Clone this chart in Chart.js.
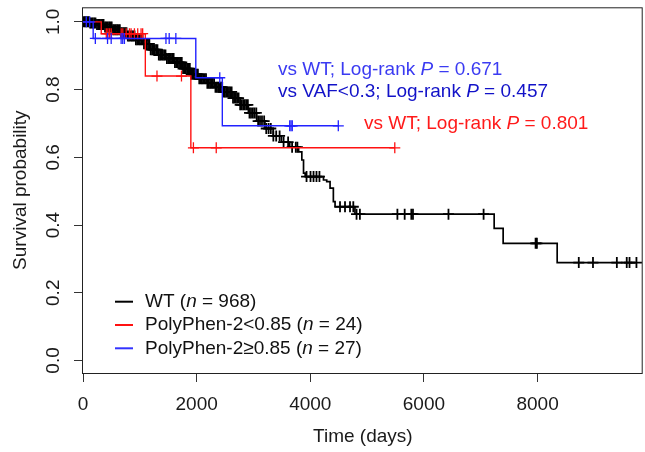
<!DOCTYPE html>
<html>
<head>
<meta charset="utf-8">
<script src="https://cdn.jsdelivr.net/npm/chart.js@4.4.0/dist/chart.umd.min.js"></script>
<style>
  html, body { margin: 0; padding: 0; background: #fff; overflow: hidden; width: 645px; height: 452px; }
  canvas { display: block; }
</style>
</head>
<body>
<canvas id="km" width="650" height="452"></canvas>
<script>
// KM curves: event times (days) and survival after each step
const wtTimes = [0, 112, 224, 369, 515, 649, 784, 918, 1052, 1187, 1321, 1455, 1601, 1746, 1892, 2037, 2183,
  2329, 2474, 2620, 2765, 2911, 3056, 3202, 3347, 3493, 3638, 3795, 3851, 3881, 3910, 4232, 4289, 4348,
  4406, 4436, 4786, 7236, 7394, 8345, 9745];
const wtSurv = [1.0, 0.997, 0.992, 0.985, 0.977, 0.968, 0.958, 0.947, 0.935, 0.918, 0.902, 0.892, 0.880,
  0.862, 0.845, 0.832, 0.819, 0.807, 0.793, 0.775, 0.755, 0.731, 0.707, 0.685, 0.663, 0.645, 0.630, 0.616,
  0.592, 0.553, 0.543, 0.533, 0.528, 0.509, 0.469, 0.454, 0.432, 0.390, 0.346, 0.289, 0.289];
const wtCensor = [10, 32, 55, 80, 101, 126, 150, 171, 197, 220, 246, 268, 291, 317, 340, 362, 388, 411, 433,
  459, 482, 505, 529, 553, 576, 600, 623, 648, 671, 694, 719, 742, 766, 789, 812, 838, 860, 884, 907, 931,
  955, 979, 1002, 1027, 1049, 1073, 1098, 1120, 1145, 1168, 1191, 1216, 1239, 1262, 1287, 1310, 1334, 1357,
  1381, 1405, 1429, 1452, 1476, 1500, 1523, 1548, 1571, 1595, 1618, 1642, 1667, 1690, 1713, 1738, 1761,
  1785, 1809, 1832, 1856, 1880, 1904, 1927, 1951, 1975, 1998, 2022, 2046, 2070, 2093, 2117, 2141, 2165,
  2188, 2212, 2236, 2260, 2283, 2307, 2331, 2355, 2378, 2402, 2426, 2450, 2474, 2497, 2521, 2545, 2569,
  2592, 2616, 2640, 2664, 2690, 2713, 2738, 2766, 2790, 2818, 2845, 2872, 2901, 2930, 2957, 2989, 3018,
  3050, 3082, 3115, 3150, 3188, 3225, 3266, 3305, 3350, 3400, 3460, 3530, 3610, 3680, 3745, 3773,
  3934, 4004, 4057, 4109, 4161, 4523, 4611, 4699, 4757, 4814, 4873, 5533, 5661, 5778, 5807, 6432, 7050,
  7965, 7988, 8725, 8975, 9395, 9569, 9618, 9740];

const lowTimes = [0, 321, 1097, 1898, 5487];
const lowSurv = [1.0, 0.965, 0.840, 0.628, 0.628];
const lowCensor = [410, 438, 468, 497, 672, 701, 760, 817, 846, 905, 963, 1022, 1050, 1302, 1733, 1943, 2345, 5487];

const highTimes = [0, 179, 1985, 2452, 4493];
const highSurv = [1.0, 0.951, 0.835, 0.693, 0.693];
const highCensor = [59, 118, 217, 432, 496, 671, 699, 729, 1460, 1517, 1634, 2407, 3638, 3661, 3683, 4493];

const xTicks = [0, 2000, 4000, 6000, 8000];
const xTickLabels = ['0', '2000', '4000', '6000', '8000'];
const yTicks = [0, 0.2, 0.4, 0.6, 0.8, 1.0];
const yTickLabels = ['0.0', '0.2', '0.4', '0.6', '0.8', '1.0'];

// text parts: [normal, italic, normal]
const legendItems = [
  { color: '#000000', parts: ['WT (', 'n', ' = 968)'] },
  { color: '#ff1111', parts: ['PolyPhen-2<0.85 (', 'n', ' = 24)'] },
  { color: '#3333ff', parts: ['PolyPhen-2\u22650.85 (', 'n', ' = 27)'] },
];
const notes = [
  { color: '#3b3bf2', x: 278, y: 70, parts: ['vs WT; Log-rank ', 'P', ' = 0.671'] },
  { color: '#1212c8', x: 278, y: 92, parts: ['vs VAF<0.3; Log-rank ', 'P', ' = 0.457'] },
  { color: '#ff1a1a', x: 364, y: 124, parts: ['vs WT; Log-rank ', 'P', ' = 0.801'] },
];

const FONT = '"Liberation Sans", Arial, Helvetica, sans-serif';
Chart.defaults.font.family = FONT;
Chart.defaults.font.size = 19;
Chart.defaults.color = '#1a1a1a';

function survAt(times, surv, t) {
  let s = surv[0];
  for (let i = 0; i < times.length; i++) {
    if (times[i] <= t) s = surv[i];
  }
  return s;
}

function curve(times, surv, color, width, order) {
  return {
    data: times.map((t, i) => ({ x: t, y: surv[i] })),
    showLine: true,
    stepped: true,
    borderColor: color,
    borderWidth: width,
    pointRadius: 0,
    order: order,
  };
}

function censors(list, times, surv, color, width, order) {
  return {
    data: list.map(t => ({ x: t, y: survAt(times, surv, t) })),
    showLine: false,
    pointStyle: 'cross',
    pointRadius: 5.5,
    borderColor: color,
    borderWidth: width,
    order: order,
  };
}

function drawParts(ctx, parts, x, y) {
  let cx = x;
  parts.forEach((p, i) => {
    ctx.font = (i === 1 ? 'italic ' : '') + '19px ' + FONT;
    ctx.fillText(p, cx, y);
    cx += ctx.measureText(p).width;
  });
}

const extras = {
  id: 'extras',
  afterDraw(chart) {
    const ctx = chart.ctx;
    const a = chart.chartArea;
    const ys = chart.scales.y;
    ctx.save();
    // box
    ctx.strokeStyle = '#222';
    ctx.lineWidth = 1;
    ctx.strokeRect(a.left - 0.5, a.top + 0.5, a.right - a.left, a.bottom - a.top);
    // rotated y tick labels
    ctx.fillStyle = '#1a1a1a';
    ctx.font = '19px ' + FONT;
    ctx.textAlign = 'center';
    ctx.textBaseline = 'middle';
    yTicks.forEach((v, i) => {
      ctx.save();
      ctx.translate(54, ys.getPixelForValue(v));
      ctx.rotate(-Math.PI / 2);
      ctx.fillText(yTickLabels[i], 0, 0);
      ctx.restore();
    });
    // legend
    ctx.textAlign = 'left';
    legendItems.forEach((it, i) => {
      const y = 301.7 + i * 23.3;
      ctx.strokeStyle = it.color;
      ctx.lineWidth = 2;
      ctx.beginPath();
      ctx.moveTo(115, y);
      ctx.lineTo(133, y);
      ctx.stroke();
      ctx.fillStyle = '#111';
      drawParts(ctx, it.parts, 145, y);
    });
    // log-rank notes
    notes.forEach(n => {
      ctx.fillStyle = n.color;
      drawParts(ctx, n.parts, n.x, n.y);
    });
    ctx.restore();
  }
};

const tickGrid = { drawOnChartArea: false, drawTicks: true, tickLength: 9, color: '#333', tickColor: '#333' };

new Chart(document.getElementById('km'), {
  type: 'scatter',
  data: {
    datasets: [
      curve(highTimes, highSurv, '#2222ff', 1.4, 0),
      censors(highCensor, highTimes, highSurv, '#2222ff', 1.3, 0),
      curve(lowTimes, lowSurv, '#ff1111', 1.4, 1),
      censors(lowCensor, lowTimes, lowSurv, '#ff1111', 1.3, 1),
      curve(wtTimes, wtSurv, '#000000', 1.7, 2),
      censors(wtCensor, wtTimes, wtSurv, '#000000', 1.8, 2),
    ],
  },
  options: {
    responsive: false,
    animation: false,
    layout: { padding: { top: 7, right: 4, left: 0, bottom: 0 } },
    plugins: { legend: { display: false }, tooltip: { enabled: false } },
    scales: {
      x: {
        type: 'linear',
        min: 0,
        max: 9850,
        afterBuildTicks: s => { s.ticks = xTicks.map(v => ({ value: v })); },
        afterFit: s => { s.height = 79; },
        grid: tickGrid,
        border: { display: false },
        ticks: {
          padding: 11, maxRotation: 0, autoSkip: false, color: '#1a1a1a',
          callback: (v) => xTickLabels[xTicks.indexOf(v)],
        },
        title: { display: true, text: 'Time (days)', color: '#1a1a1a', padding: { top: 0, bottom: 4 } },
      },
      y: {
        type: 'linear',
        min: -0.037,
        max: 1.043,
        afterBuildTicks: s => { s.ticks = yTicks.map(v => ({ value: v })); },
        afterFit: s => { s.width = 83; },
        grid: tickGrid,
        border: { display: false },
        ticks: { display: false },
        title: { display: true, text: 'Survival probability', color: '#1a1a1a', padding: { top: 9.6, bottom: 0 } },
      },
    },
  },
  plugins: [extras],
});
</script>
</body>
</html>
